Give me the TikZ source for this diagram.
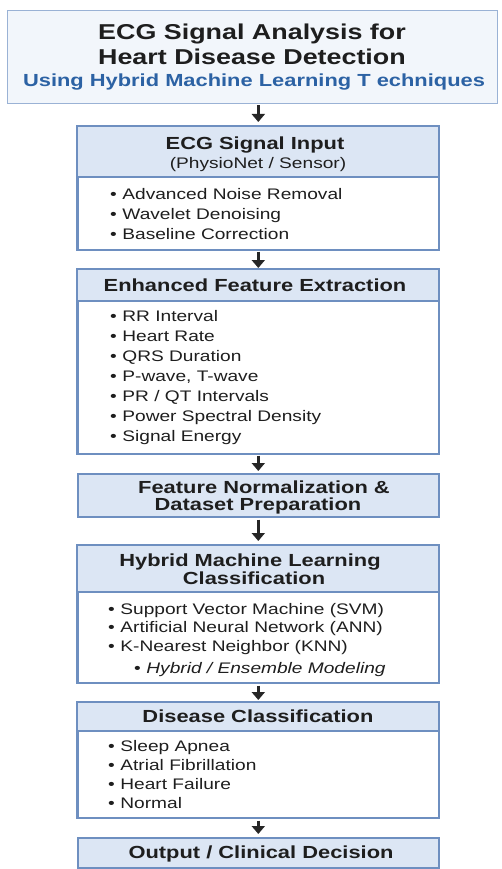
\documentclass[tikz,border=0pt]{standalone}
\usepackage{fontspec}
\setmainfont{Liberation Sans}[FakeStretch=1.25]
\usetikzlibrary{arrows.meta}
\definecolor{hdr}{HTML}{DCE6F4}
\definecolor{bord}{HTML}{6E8FC0}
\definecolor{tbord}{HTML}{9AB2D5}
\definecolor{tfill}{HTML}{F2F6FB}
\definecolor{subblue}{HTML}{2C62A4}
\definecolor{txt}{HTML}{1E1E1E}
\tikzset{
  outer/.style={draw=bord, line width=1.6pt, fill=white, anchor=north west, minimum width=361pt, inner sep=0pt},
  head/.style={fill=hdr, anchor=north west, minimum width=361pt, inner sep=0pt},
  divline/.style={draw=bord, line width=1.2pt},
  ttl/.style={font=\fontsize{17.5}{20}\selectfont\bfseries, text=txt, anchor=mid, inner sep=0pt, yshift=-4pt},
  subt/.style={font=\fontsize{15.3}{18}\selectfont, text=txt, anchor=mid, inner sep=0pt, yshift=-3pt},
  item/.style={font=\fontsize{15.3}{18}\selectfont, text=txt, anchor=mid west, inner sep=0pt, yshift=-3.5pt},
  arr/.style={line width=2.4pt, draw=black!85, -{Triangle[length=8pt,width=13pt]}},
}
\begin{document}
\begin{tikzpicture}[x=1pt,y=-1pt]
\useasboundingbox (0,0) rectangle (501,869);
% title
\node[draw=tbord, line width=1.4pt, fill=tfill, anchor=north west, minimum width=490pt, minimum height=93pt, inner sep=0pt] (title) at (7,10) {};
\node[font=\fontsize{21.5}{25}\selectfont\bfseries, text=txt, anchor=mid, yshift=-5pt] (t1) at (252,32) {ECG Signal Analysis for};
\node[font=\fontsize{21.5}{25}\selectfont\bfseries, text=txt, anchor=mid, yshift=-5pt] (t2) at (252,57) {Heart Disease Detection};
\node[font=\fontsize{17.5}{20}\selectfont\bfseries, text=subblue, anchor=mid, yshift=-4pt] (t3) at (254,80) {Using Hybrid Machine Learning T echniques};

% box 1
\node[outer, minimum height=123pt] (b1) at (77,126) {};
\node[head, minimum height=51pt] (h1) at (77,126) {};
\draw[divline] (77,177) -- (438,177);
\draw[draw=bord, line width=1.6pt] (b1.north west) rectangle (b1.south east);
\node[ttl] (b1t) at (255,143) {ECG Signal Input};
\node[subt] (b1s) at (258,163) {(PhysioNet / Sensor)};
\foreach \txt [count=\i] in {Advanced Noise Removal, Wavelet Denoising, Baseline Correction}
  \node[item] (b1i\i) at (110,{173+20*\i}) {•\hspace{5.5pt}\txt};

% box 2
\node[outer, minimum height=184pt] (b2) at (77,269) {};
\node[head, minimum height=32pt] (h2) at (77,269) {};
\draw[divline] (77,301) -- (438,301);
\draw[draw=bord, line width=1.6pt] (b2.north west) rectangle (b2.south east);
\node[ttl] (b2t) at (255,285) {Enhanced Feature Extraction};
\foreach \txt [count=\i] in {RR Interval, Heart Rate, QRS Duration, {P-wave, T-wave}, PR / QT Intervals, Power Spectral Density, Signal Energy}
  \node[item] (b2i\i) at (110,{295+20*\i}) {•\hspace{5.5pt}\txt};

% box 3
\node[outer, fill=hdr, minimum height=43pt] (b3) at (77,473) {};
\node[ttl] (b3a) at (264,487) {Feature Normalization \&};
\node[ttl] (b3b) at (258,504) {Dataset Preparation};

% box 4
\node[outer, minimum height=137pt] (b4) at (77,545) {};
\node[head, minimum height=47pt] (h4) at (77,545) {};
\draw[divline] (77,592) -- (438,592);
\draw[draw=bord, line width=1.6pt] (b4.north west) rectangle (b4.south east);
\node[ttl] (b4a) at (250,560) {Hybrid Machine Learning};
\node[ttl] (b4b) at (254,578) {Classification};
\foreach \txt [count=\i] in {Support Vector Machine (SVM), Artificial Neural Network (ANN), K-Nearest Neighbor (KNN)}
  \node[item] (b4i\i) at (108,{589.5+18.5*\i}) {•\hspace{5.5pt}\txt};
\node[item] (b4s) at (134,667) {•\hspace{5.5pt}\itshape Hybrid / Ensemble Modeling};

% box 5
\node[outer, minimum height=115pt] (b5) at (77,702) {};
\node[head, minimum height=29pt] (h5) at (77,702) {};
\draw[divline] (77,731) -- (438,731);
\draw[draw=bord, line width=1.6pt] (b5.north west) rectangle (b5.south east);
\node[ttl] (b5t) at (258,716) {Disease Classification};
\foreach \txt [count=\i] in {Sleep Apnea, Atrial Fibrillation, Heart Failure, Normal}
  \node[item] (b5i\i) at (108,{726+19*\i}) {•\hspace{5.5pt}\txt};

% box 6
\node[outer, fill=hdr, minimum height=30pt] (b6) at (77,837) {};
\node[ttl] (b6t) at (261,852) {Output / Clinical Decision};

% arrows
\draw[arr, shorten <=1pt, shorten >=4pt] (title.south -| b1.north) -- (b1.north);
\draw[arr, shorten <=1pt, shorten >=1pt] (b1.south) -- (b2.north);
\draw[arr, shorten <=1pt, shorten >=2pt] (b2.south) -- (b3.north);
\draw[arr, shorten <=2pt, shorten >=4pt] (b3.south) -- (b4.north);
\draw[arr, shorten <=2pt, shorten >=2pt] (b4.south) -- (b5.north);
\draw[arr, shorten <=2pt, shorten >=3pt] (b5.south) -- (b6.north);
\end{tikzpicture}
\end{document}
